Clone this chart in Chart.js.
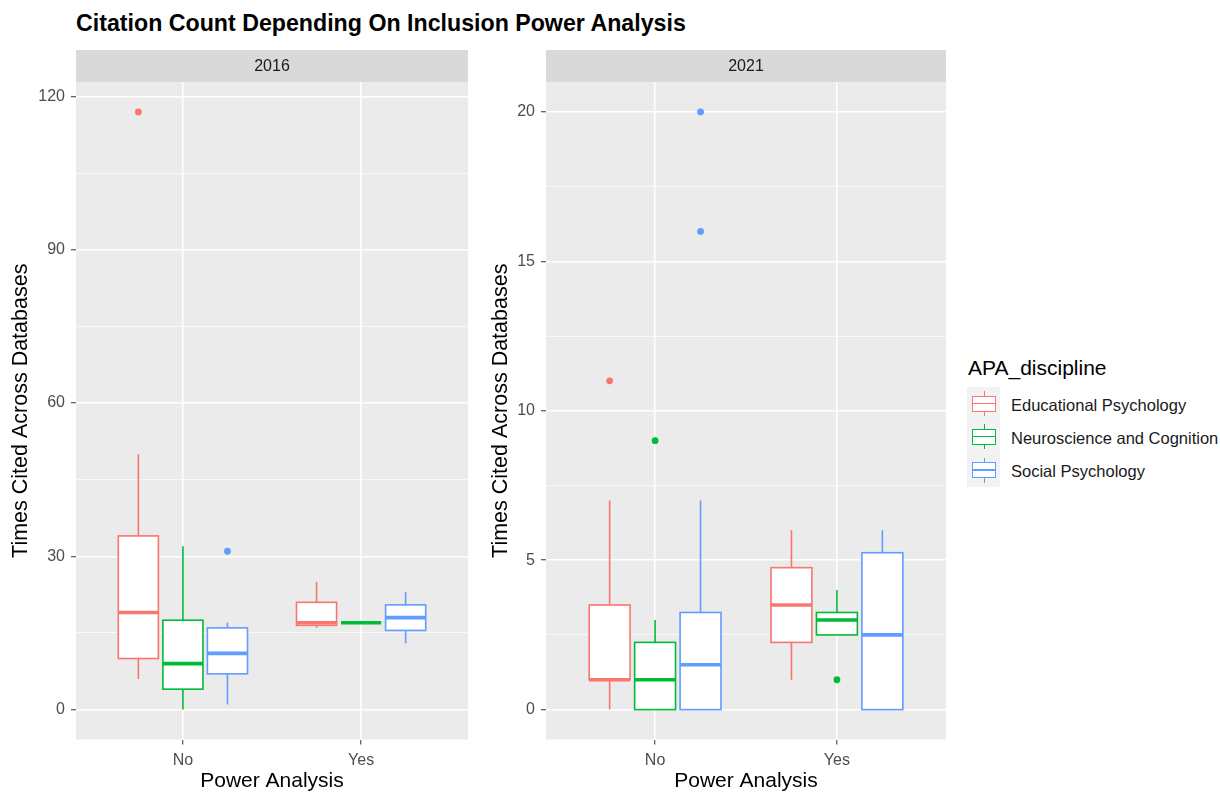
<!DOCTYPE html>
<html>
<head>
<meta charset="utf-8">
<script src="https://cdn.jsdelivr.net/npm/chart.js"></script>
<style>
    body {
        margin: 0;
        background: #fff;
        font-family: Arial, "Liberation Sans", sans-serif;
    }
    #title {
        position: absolute;
        left: 76px;
        top: 12px;
        font-size: 23.2px;
        line-height: 23px;
        font-weight: bold;
        color: #000;
        white-space: nowrap;
    }
    .panel {
        position: absolute;
        top: 0;
    }
    #legend {
        position: absolute;
        left: 967px;
        top: 357px;
    }
    .legend-title {
        font-size: 21px;
        line-height: 21px;
        margin-left: 1px;
        margin-bottom: 9px;
        white-space: nowrap;
    }
    .legend-item {
        display: flex;
        align-items: center;
        height: 33.3px;
    }
    .key {
        position: relative;
        width: 33px;
        height: 33.3px;
        background: #f2f2f2;
    }
    .key .wh {
        position: absolute;
        left: 16.5px;
        top: 4px;
        width: 1.3px;
        height: 25px;
    }
    .key .bx {
        position: absolute;
        left: 5px;
        top: 8.5px;
        width: 22px;
        height: 14px;
        background: #fff;
        border: 1.3px solid;
    }
    .key .md {
        position: absolute;
        left: 0;
        right: 0;
        top: 6.3px;
        height: 1.3px;
    }
    .legend-label {
        margin-left: 11px;
        margin-top: 3px;
        font-size: 16.5px;
        color: #1a1a1a;
        white-space: nowrap;
    }
</style>
</head>
<body>
<div id="title">Citation Count Depending On Inclusion Power Analysis</div>
<div class="panel" style="left:0"><canvas id="c2016" width="480" height="792"></canvas></div>
<div class="panel" style="left:480px"><canvas id="c2021" width="480" height="792"></canvas></div>
<div id="legend">
    <div class="legend-title">APA_discipline</div>
    <div id="legend-items"></div>
</div>

<script>
    const groups = ['No', 'Yes'];
    const disciplines = ['Educational Psychology', 'Neuroscience and Cognition', 'Social Psychology'];

    // box stats per discipline: [lower whisker, Q1, median, Q3, upper whisker]
    const box2016No = [[6, 10, 19, 34, 50], [0, 4, 9, 17.5, 32], [1, 7, 11, 16, 17]];
    const box2016Yes = [[16, 16.5, 17, 21, 25], [17, 17, 17, 17, 17], [13, 15.5, 18, 20.5, 23]];
    const out2016No = [[117], [], [31]];
    const out2016Yes = [[], [], []];

    const box2021No = [[0, 1, 1, 3.5, 7], [0, 0, 1, 2.25, 3], [0, 0, 1.5, 3.25, 7]];
    const box2021Yes = [[1, 2.25, 3.5, 4.75, 6], [2.5, 2.5, 3, 3.25, 4], [0, 0, 2.5, 5.25, 6]];
    const out2021No = [[11], [9], [16, 20]];
    const out2021Yes = [[], [1], []];

    const yTicks2016 = [0, 30, 60, 90, 120];
    const yGrid2016 = [0, 15, 30, 45, 60, 75, 90, 105, 120];
    const yTicks2021 = [0, 5, 10, 15, 20];
    const yGrid2021 = [0, 2.5, 5, 7.5, 10, 12.5, 15, 17.5, 20];

    const colours = ['#F8766D', '#00BA38', '#619CFF'];
    const dodge = [-0.25, 0, 0.25];
    const halfBox = 0.1125;

    // panel background, facet strip and the boxes themselves
    const boxPlugin = {
        id: 'boxes',
        beforeDraw(chart, args, opts) {
            const { ctx, chartArea: a } = chart;
            ctx.save();
            ctx.fillStyle = '#EBEBEB';
            ctx.fillRect(a.left, a.top, a.right - a.left, a.bottom - a.top);
            ctx.fillStyle = '#D9D9D9';
            ctx.fillRect(a.left, a.top - 32, a.right - a.left, 32);
            ctx.fillStyle = '#1A1A1A';
            ctx.font = '16px Arial, "Liberation Sans", sans-serif';
            ctx.textAlign = 'center';
            ctx.textBaseline = 'middle';
            ctx.fillText(opts.strip, (a.left + a.right) / 2, a.top - 15.5);
            ctx.restore();
        },
        beforeDatasetsDraw(chart, args, opts) {
            const { ctx, scales: { x, y } } = chart;
            ctx.save();
            opts.stats.forEach((grp, g) => {
                grp.forEach((st, s) => {
                    const cx = g + 1 + dodge[s];
                    const px = x.getPixelForValue(cx);
                    const l = x.getPixelForValue(cx - halfBox);
                    const r = x.getPixelForValue(cx + halfBox);
                    const [lo, q1, med, q3, hi] = st.map(v => y.getPixelForValue(v));
                    ctx.strokeStyle = colours[s];
                    ctx.lineWidth = 1.6;
                    ctx.beginPath();
                    ctx.moveTo(px, q3); ctx.lineTo(px, hi);
                    ctx.moveTo(px, q1); ctx.lineTo(px, lo);
                    ctx.stroke();
                    ctx.fillStyle = '#fff';
                    ctx.fillRect(l, q3, r - l, q1 - q3);
                    ctx.strokeRect(l, q3, r - l, q1 - q3);
                    ctx.lineWidth = 3.6;
                    ctx.beginPath();
                    ctx.moveTo(l, med); ctx.lineTo(r, med);
                    ctx.stroke();
                });
            });
            ctx.restore();
        }
    };

    function makeChart(id, stats, outliers, yMin, yMax, yTicks, yGrid, strip, axisWidth, rightPad) {
        return new Chart(document.getElementById(id), {
            type: 'scatter',
            data: {
                datasets: disciplines.map((name, s) => ({
                    label: name,
                    data: outliers.flatMap((grp, g) => grp[s].map(v => ({ x: g + 1 + dodge[s], y: v }))),
                    backgroundColor: colours[s],
                    borderWidth: 0,
                    pointRadius: 3.4,
                    pointHoverRadius: 3.4
                }))
            },
            options: {
                responsive: false,
                animation: false,
                events: [],
                layout: { padding: { top: 82, right: rightPad, left: 0, bottom: 0 } },
                plugins: {
                    legend: { display: false },
                    tooltip: { enabled: false },
                    boxes: { stats: stats, strip: strip }
                },
                scales: {
                    x: {
                        type: 'linear',
                        min: 0.4,
                        max: 2.6,
                        afterBuildTicks: s => { s.ticks = groups.map((_, i) => ({ value: i + 1 })); },
                        afterFit: s => { s.height = 52.5; },
                        border: { display: false },
                        grid: { color: '#FFFFFF', lineWidth: 1.5, tickColor: '#333333', tickLength: 5, tickWidth: 1 },
                        ticks: {
                            callback: v => groups[v - 1],
                            color: '#4D4D4D',
                            font: { size: 16 },
                            padding: 6,
                            maxRotation: 0,
                            autoSkip: false
                        },
                        title: {
                            display: true,
                            text: 'Power Analysis',
                            color: '#000',
                            font: { size: 21, lineHeight: 1 },
                            padding: { top: 0, bottom: 0 }
                        }
                    },
                    y: {
                        min: yMin,
                        max: yMax,
                        afterBuildTicks: s => { s.ticks = yGrid.map(v => ({ value: v })); },
                        afterFit: s => { s.width = axisWidth; },
                        border: { display: false },
                        grid: {
                            color: '#FFFFFF',
                            lineWidth: c => (c.tick && yTicks.includes(c.tick.value)) ? 1.5 : 0.7,
                            tickColor: c => (c.tick && yTicks.includes(c.tick.value)) ? '#333333' : 'rgba(0,0,0,0)',
                            tickLength: 5,
                            tickWidth: 1
                        },
                        ticks: {
                            callback: v => yTicks.includes(v) ? String(v) : '',
                            color: '#4D4D4D',
                            font: { size: 16 },
                            padding: 6,
                            autoSkip: false
                        },
                        title: {
                            display: true,
                            text: 'Times Cited Across Databases',
                            color: '#000',
                            font: { size: 21.5, lineHeight: 1 },
                            padding: { top: 10, bottom: 0 }
                        }
                    }
                }
            },
            plugins: [boxPlugin]
        });
    }

    makeChart('c2016', [box2016No, box2016Yes], [out2016No, out2016Yes], -5.85, 122.85,
        yTicks2016, yGrid2016, '2016', 76, 12);
    makeChart('c2021', [box2021No, box2021Yes], [out2021No, out2021Yes], -1, 21,
        yTicks2021, yGrid2021, '2021', 66, 14);

    // legend keys drawn as little boxplot glyphs
    const items = document.getElementById('legend-items');
    disciplines.forEach((name, s) => {
        const row = document.createElement('div');
        row.className = 'legend-item';
        row.innerHTML = '<div class="key"><div class="wh" style="background:' + colours[s] + '"></div>' +
            '<div class="bx" style="border-color:' + colours[s] + '"><div class="md" style="background:' + colours[s] + '"></div></div></div>' +
            '<span class="legend-label">' + name + '</span>';
        items.appendChild(row);
    });
</script>
</body>
</html>
